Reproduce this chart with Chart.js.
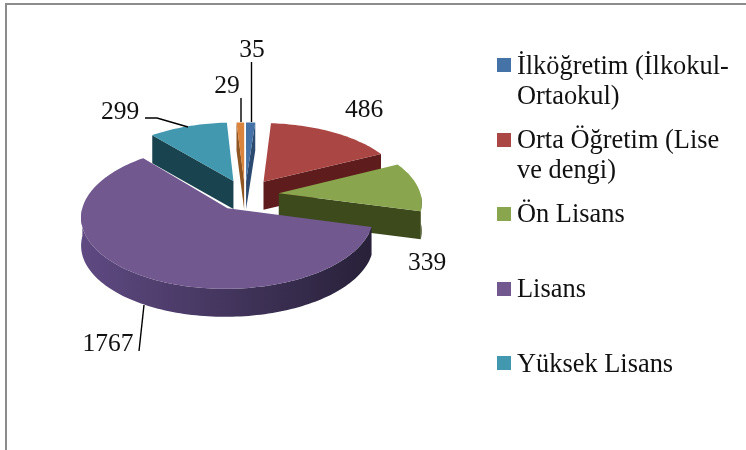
<!DOCTYPE html>
<html><head><meta charset="utf-8">
<style>html,body{margin:0;padding:0;background:#fff}canvas{display:block}</style>
<script src="https://cdn.jsdelivr.net/npm/chart.js@4"></script>
</head><body>
<div style="width:746px;height:450px"><canvas id="c" width="746" height="450"></canvas></div>
<script>
const categories = ["İlköğretim (İlkokul-Ortaokul)", "Orta Öğretim (Lise ve dengi)", "Ön Lisans", "Lisans", "Yüksek Lisans", ""];
const values = [35, 486, 339, 1767, 299, 29];
const topColors = ["#4572a7", "#aa4643", "#89a54e", "#71588f", "#4198af", "#db843d"];
const wallLeft = ["#2c4a70", "#6b2322", "#3d4a1c", "#5e4981", "#1e4c5a", "#8f5522"];
const wallRight = ["#2c4a70", "#5e1d1c", "#3d4a1c", "#282139", "#1a4350", "#8f5522"];
const sliceOffsets = [120, 136, 136, 128, 128, 120];

const legendLines = [["İlköğretim (İlkokul-", "Ortaokul)"], ["Orta Öğretim (Lise", "ve dengi)"], ["Ön Lisans"], ["Lisans"], ["Yüksek Lisans"]];
const legendSquareY = [58, 133, 207, 282, 356];
const legendBaseY = [[74, 104], [148, 178], [222], [297], [372]];
const valueLabelPos = [[252, 57], [364, 117], [427, 270], [108, 351], [120, 119], [227, 93]];
const leaders = [[[251.5,62],[251.5,122]], [[241,98],[241,122]], [[145,118],[157,118],[188,127]], [[139,351],[144,305]]];

const SERIF = '"Liberation Serif","Times New Roman",serif';
const DIST = 1250, TILT = 0.48, DEPTH = 28;

const pie3d = {
  id: 'pie3d',
  beforeDatasetsDraw(chart) {
    const ctx = chart.ctx;
    const arcs = chart.getDatasetMeta(0).data;
    const cx = arcs[0].x, cy = arcs[0].y;
    const proj = (u, w, z) => { const s = DIST / (DIST + w); return [cx + u * s, cy - w * TILT * s + z]; };
    const items = arcs.map((a, i) => {
      const off = (a.options.offset || 0) / 4, mid = (a.startAngle + a.endAngle) / 2;
      return { a, i, R: a.outerRadius, ou: off * Math.cos(mid), ow: -off * Math.sin(mid) };
    });
    const order = [0, 5, 4, 1, 2, 3];
    const poly = (pts) => { ctx.beginPath(); pts.forEach((p, j) => j ? ctx.lineTo(p[0], p[1]) : ctx.moveTo(p[0], p[1])); ctx.closePath(); };
    for (const k of order) {
      const it = items[k], a = it.a, i = it.i;
      const P = (ang, z) => proj(it.ou + it.R * Math.cos(ang), it.ow - it.R * Math.sin(ang), z);
      const C = (z) => proj(it.ou, it.ow, z);
      const n = Math.max(4, Math.ceil((a.endAngle - a.startAngle) * 40));
      const rim = [];
      for (let j = 0; j <= n; j++) rim.push(a.startAngle + (a.endAngle - a.startAngle) * j / n);
      const grad = ctx.createLinearGradient(cx + it.ou - it.R, 0, cx + it.ou + it.R, 0);
      grad.addColorStop(0, wallLeft[i]); grad.addColorStop(1, wallRight[i]);
      const top = [C(0)].concat(rim.map(t => P(t, 0)));
      const cen = top.reduce((s, p) => [s[0] + p[0] / top.length, s[1] + p[1] / top.length], [0, 0]);
      for (const ang of [a.startAngle, a.endAngle]) {
        const A = C(0), B = P(ang, 0);
        let nx = -(B[1] - A[1]), ny = B[0] - A[0];
        if (nx * (cen[0] - A[0]) + ny * (cen[1] - A[1]) > 0) { nx = -nx; ny = -ny; }
        if (ny > 0) {
          poly([A, B, P(ang, DEPTH), C(DEPTH)]);
          ctx.fillStyle = wallRight[i]; ctx.fill();
        }
      }
      const fr = rim.filter(t => Math.sin(t) > -0.01);
      if (fr.length > 1) {
        poly(fr.map(t => P(t, 0)).concat(fr.slice().reverse().map(t => P(t, DEPTH))));
        ctx.fillStyle = grad; ctx.fill();
      }
      poly(top);
      ctx.fillStyle = topColors[i]; ctx.fill();
    }
    return false;
  },
  afterDraw(chart) {
    const ctx = chart.ctx;
    ctx.save();
    ctx.strokeStyle = '#8c8c8c'; ctx.lineWidth = 2;
    ctx.beginPath(); ctx.moveTo(6, 450); ctx.lineTo(6, 4); ctx.lineTo(746, 4); ctx.stroke();
    ctx.strokeStyle = '#000'; ctx.lineWidth = 1.4;
    leaders.forEach(l => { ctx.beginPath(); l.forEach((p, j) => j ? ctx.lineTo(p[0], p[1]) : ctx.moveTo(p[0], p[1])); ctx.stroke(); });
    ctx.fillStyle = '#111'; ctx.font = '25.5px ' + SERIF; ctx.textBaseline = 'alphabetic'; ctx.textAlign = 'center';
    values.forEach((v, i) => ctx.fillText(String(v), valueLabelPos[i][0], valueLabelPos[i][1]));
    ctx.textAlign = 'left'; ctx.font = '26.4px ' + SERIF;
    legendLines.forEach((ls, i) => {
      ctx.fillStyle = topColors[i]; ctx.fillRect(497, legendSquareY[i], 14, 14);
      ctx.fillStyle = '#111';
      ls.forEach((t, j) => ctx.fillText(t, 517, legendBaseY[i][j]));
    });
    ctx.restore();
  }
};

new Chart(document.getElementById('c'), {
  type: 'pie',
  data: { labels: categories, datasets: [{ data: values, backgroundColor: topColors, offset: sliceOffsets, radius: 142, borderWidth: 0 }] },
  options: {
    responsive: false, animation: false,
    layout: { padding: { right: 256, bottom: 60 } },
    plugins: { legend: { display: false }, tooltip: { enabled: false } }
  },
  plugins: [pie3d]
});
</script>
</body></html>
